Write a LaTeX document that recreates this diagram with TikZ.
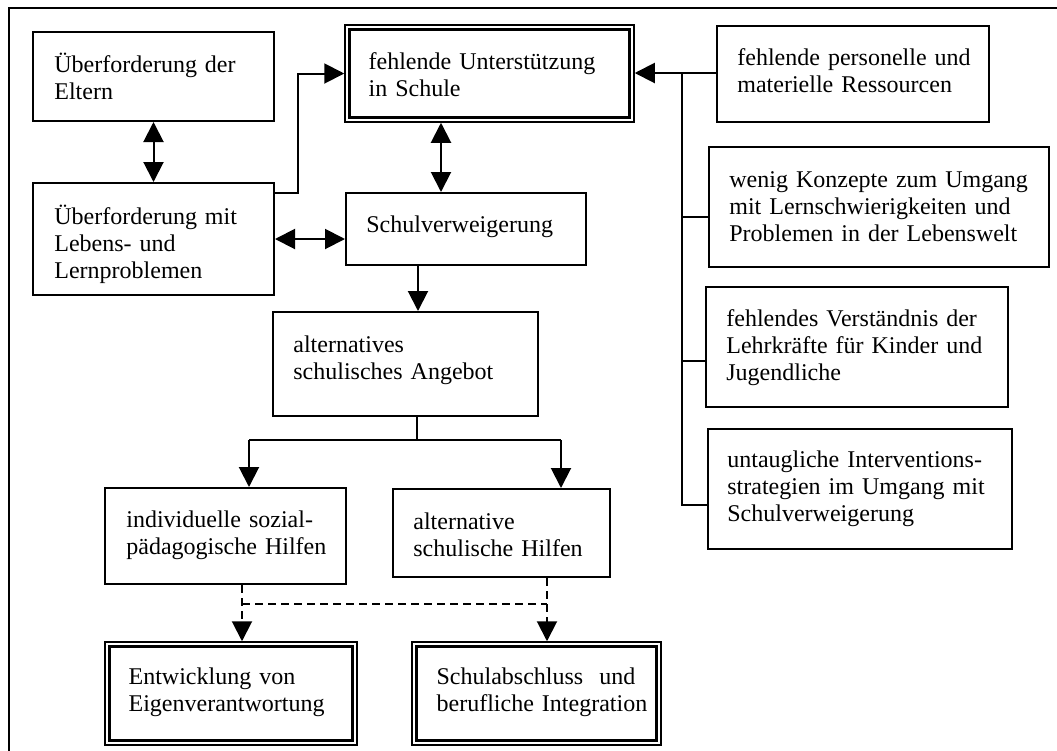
\documentclass[tikz,border=0pt]{standalone}
\usepackage{fontspec}
\setmainfont{Liberation Serif}
\usetikzlibrary{arrows.meta,calc,fit}

\tikzset{
  box/.style={draw, line width=1pt, inner sep=0pt},
  dbox/.style={draw, line width=0.75pt, inner sep=0pt},
  inner/.style={line width=1.5pt},
  txt/.style={anchor=base west, inner sep=0pt, text width=175pt, align=left,
              font=\fontsize{12}{13.6}\selectfont},
  conn/.style={line width=1pt},
  tip/.style={-{Triangle[length=10pt,width=10pt]}},
  dtip/.style={{Triangle[length=10pt,width=10pt]}-{Triangle[length=10pt,width=10pt]}},
  dashline/.style={dash pattern=on 4pt off 2.5pt},
}

\begin{document}
\begin{tikzpicture}[x=0.5pt, y=-0.5pt]
\useasboundingbox (0,0) rectangle (1057,751);

% open frame (top and left edges)
\draw[line width=1pt] (1057,8) -- (9,8) -- (9,751);

% ---- left column
\node[box, fit={(33,32) (274,121)}] (eltern) {};
\node[txt] (eltern-t) at ($(eltern.north west)+(22,41)$) {Überforderung der\\Eltern};

\node[box, fit={(33,183) (274,295)}] (lebens) {};
\node[txt] (lebens-t) at ($(lebens.north west)+(22,42)$) {Überforderung mit\\Lebens- und\\Lernproblemen};

% ---- centre column
\node[dbox, fit={(345,25) (634,122)}] (unterst) {};
\draw[inner] ($(unterst.north west)+(5,5)$) rectangle ($(unterst.south east)+(-5,-5)$);
\node[txt] (unterst-t) at ($(unterst.north west)+(24,45)$) {fehlende Unterstützung\\in Schule};

\node[box, fit={(346,193) (586,265)}] (verweig) {};
\node[txt] (verweig-t) at ($(verweig.north west)+(21,40)$) {Schulverweigerung};

\node[box, fit={(273,312) (538,416)}] (angebot) {};
\node[txt] (angebot-t) at ($(angebot.north west)+(21,41)$) {alternatives\\schulisches Angebot};

\node[box, fit={(105,488) (346,584)}] (sozial) {};
\node[txt] (sozial-t) at ($(sozial.north west)+(22,40)$) {individuelle sozial-\\pädagogische Hilfen};

\node[box, fit={(393,489) (610,577)}] (hilfen) {};
\node[txt] (hilfen-t) at ($(hilfen.north west)+(21,41)$) {alternative\\schulische Hilfen};

\node[dbox, fit={(105,642) (357,745)}] (eigen) {};
\draw[inner] ($(eigen.north west)+(5,5)$) rectangle ($(eigen.south east)+(-5,-5)$);
\node[txt] (eigen-t) at ($(eigen.north west)+(24,43)$) {Entwicklung von\\Eigenverantwortung};

\node[dbox, fit={(412,642) (661,745)}] (abschluss) {};
\draw[inner] ($(abschluss.north west)+(5,5)$) rectangle ($(abschluss.south east)+(-5,-5)$);
\node[txt] (abschluss-t) at ($(abschluss.north west)+(25,43)$) {Schulabschluss\ \ und\\berufliche Integration};

% ---- right column
\node[box, fit={(717,26) (989,122)}] (ressourcen) {};
\node[txt] (ressourcen-t) at ($(ressourcen.north west)+(21,40)$) {fehlende personelle und\\materielle Ressourcen};

\node[box, fit={(709,147) (1049,267)}] (konzepte) {};
\node[txt] (konzepte-t) at ($(konzepte.north west)+(21,41)$) {wenig Konzepte zum Umgang\\mit Lernschwierigkeiten und\\Problemen in der Lebenswelt};

\node[box, fit={(706,287) (1008,407)}] (verstaendnis) {};
\node[txt] (verstaendnis-t) at ($(verstaendnis.north west)+(21,40)$) {fehlendes Verständnis der\\Lehrkräfte für Kinder und\\Jugendliche};

\node[box, fit={(708,429) (1012,549)}] (strategien) {};
\node[txt] (strategien-t) at ($(strategien.north west)+(20,39)$) {untaugliche Interventions-\\strategien im Umgang mit\\Schulverweigerung};

% ---- routing guides
\coordinate (cx1) at (441,0);
\coordinate (cx2) at (418,0);
\coordinate (cx3) at (417,0);
\coordinate (cxl) at (249,0);
\coordinate (cxr) at (561,0);
\coordinate (split) at (0,440);
\coordinate (dl) at (242,0);
\coordinate (dr) at (547,0);
\coordinate (dmid) at (0,604);
\coordinate (bus) at (682,0);
\coordinate (ry) at (0,73);
\coordinate (y193) at (0,193);
\coordinate (fy) at (0,217);
\coordinate (gy) at (0,361);
\coordinate (hy) at (0,505);

% ---- connectors
\draw[conn, dtip] (eltern.south) -- (lebens.north);
\draw[conn, tip] (lebens.east |- y193) -- (298,193) |- (unterst.west);
\draw[conn, dtip] (lebens.east) -- (verweig.west |- lebens.east);
\draw[conn, dtip] (unterst.south -| cx1) -- (verweig.north -| cx1);
\draw[conn, tip] (verweig.south -| cx2) -- (angebot.north -| cx2);

\draw[conn] (angebot.south -| cx3) -- (split -| cx3);
\draw[conn] (split -| cxl) -- (split -| cxr);
\draw[conn, tip] (split -| cxl) -- (sozial.north -| cxl);
\draw[conn, tip] (split -| cxr) -- (hilfen.north -| cxr);

\draw[conn, dashline, tip] (sozial.south -| dl) -- (eigen.north -| dl);
\draw[conn, dashline, tip] (hilfen.south -| dr) -- (abschluss.north -| dr);
\draw[conn, dashline] (dmid -| dl) -- (dmid -| dr);

\draw[conn, tip] (ressourcen.west |- ry) -- (unterst.east |- ry);
\draw[conn] (bus |- ry) -- (bus |- hy) -- (strategien.west |- hy);
\draw[conn] (bus |- fy) -- (konzepte.west |- fy);
\draw[conn] (bus |- gy) -- (verstaendnis.west |- gy);
\end{tikzpicture}
\end{document}
